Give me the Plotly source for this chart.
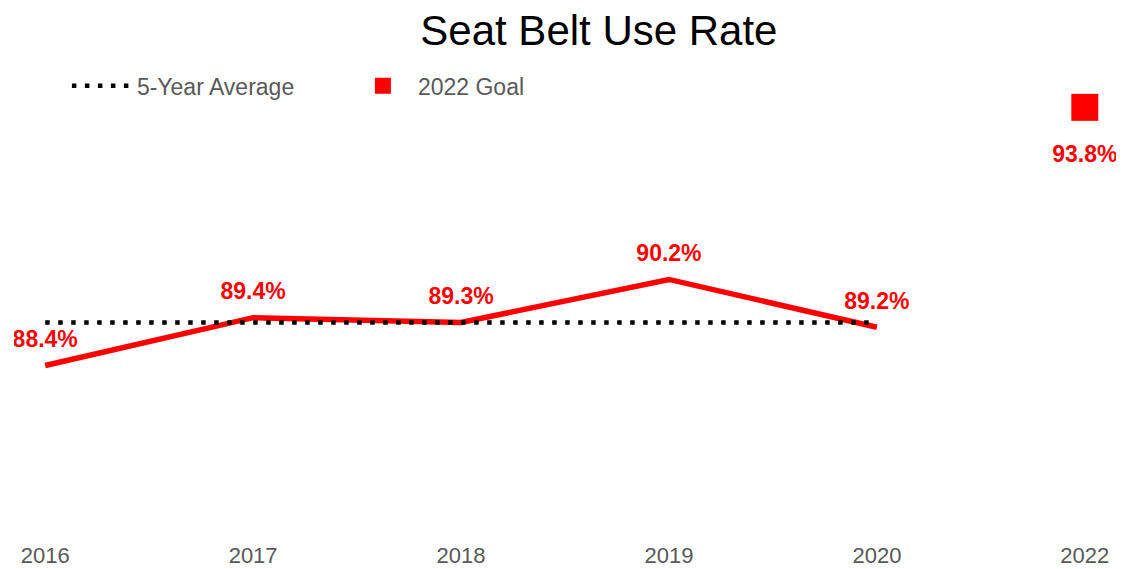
import plotly.graph_objects as go

categories = ["2016", "2017", "2018", "2019", "2020", "2022"]
years = ["2016", "2017", "2018", "2019", "2020"]
rates = [88.4, 89.4, 89.3, 90.2, 89.2]
avg_values = [89.3, 89.3, 89.3, 89.3, 89.3]
goal_year = ["2022"]
goal_value = [93.8]
rate_labels = ["88.4%", "89.4%", "89.3%", "90.2%", "89.2%"]
goal_labels = ["93.8%"]

RED = "#FF0000"
FONT = "Liberation Sans, Arial, sans-serif"
LABEL_FONT = dict(family=FONT, size=23, color=RED, weight="bold")

fig = go.Figure()

fig.add_trace(go.Scatter(
    x=years, y=rates, mode="lines", name="Seat Belt Use Rate",
    line=dict(color=RED, width=5.5), showlegend=False, hoverinfo="skip",
))
fig.add_trace(go.Scatter(
    x=years, y=avg_values, mode="lines", name="5-Year Average",
    line=dict(color="black", width=4.5, dash="4.5px,8.5px"), legendrank=1,
))
fig.add_trace(go.Scatter(
    x=goal_year, y=goal_value, mode="markers", name="2022 Goal",
    marker=dict(color=RED, symbol="square", size=27), legendrank=2,
))

# data labels (transparent markers set the text offset)
fig.add_trace(go.Scatter(
    x=years, y=rates, mode="markers+text", text=rate_labels,
    textposition="top center", textfont=LABEL_FONT,
    marker=dict(size=19, color="rgba(0,0,0,0)"), showlegend=False, hoverinfo="skip",
))
fig.add_trace(go.Scatter(
    x=goal_year, y=goal_value, mode="markers+text", text=goal_labels,
    textposition="bottom center", textfont=LABEL_FONT,
    marker=dict(size=59, color="rgba(0,0,0,0)"), showlegend=False, hoverinfo="skip",
))

fig.update_layout(
    width=1117, height=561,
    margin=dict(l=6, r=9, t=42, b=41, autoexpand=False),
    paper_bgcolor="white", plot_bgcolor="white",
    title=dict(text="Seat Belt Use Rate", x=0.529, xanchor="center", y=0.961, yanchor="middle",
               font=dict(family=FONT, size=42, color="black")),
    legend=dict(orientation="h", x=0.048, y=0.925, xanchor="left", yanchor="middle",
                font=dict(family=FONT, size=23, color="#595959"),
                itemwidth=60, entrywidth=206, bgcolor="rgba(0,0,0,0)"),
    xaxis=dict(type="category", categoryorder="array", categoryarray=categories,
               range=[-0.15, 5.15], showgrid=False, zeroline=False, showline=False,
               ticks="", tickfont=dict(family=FONT, size=22, color="#595959"),
               ticklabelstandoff=12, automargin=False),
    yaxis=dict(range=[85, 95], showgrid=False, zeroline=False, showline=False,
               showticklabels=False, ticks="", automargin=False),
)

fig.write_html("out.html")
